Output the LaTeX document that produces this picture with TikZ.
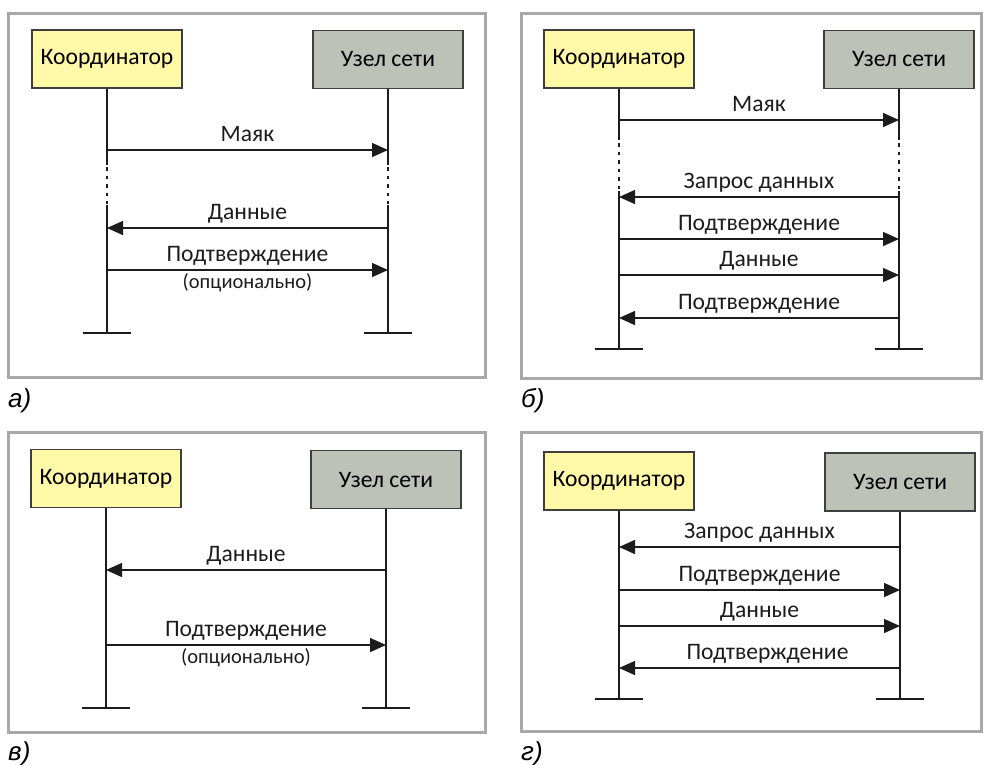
\documentclass[tikz,border=0pt]{standalone}
\usepackage{fontspec}
\setmainfont{Carlito}
\newfontfamily\tagfont{Liberation Sans}
\usepackage{tikz}
\usetikzlibrary{arrows.meta}
\definecolor{coordyellow}{RGB}{255,249,168}
\definecolor{nodegray}{RGB}{189,194,184}
\definecolor{framegray}{RGB}{168,168,168}
\definecolor{ink}{RGB}{28,28,28}
\tikzset{
  frame/.style={draw=framegray,line width=3pt},
  actor/.style={draw=ink!85,line width=1.6pt,minimum width=150pt,minimum height=58pt,inner sep=0pt,font=\fontsize{23.6}{27}\selectfont},
  life/.style={ink,line width=2.2pt},
  gap/.style={ink,line width=2.2pt,dash pattern=on 3.5pt off 5pt},
  msg/.style={ink,line width=1.5pt,-{Triangle[length=16pt,width=14pt]}},
  lab/.style={font=\fontsize{23.6}{27}\selectfont,anchor=base,yshift=9pt},
  note/.style={font=\fontsize{20.5}{24}\selectfont,anchor=base,yshift=-18pt},
  tag/.style={font=\tagfont\itshape\fontsize{26}{29}\selectfont,anchor=base west,inner sep=0pt}
}

\begin{document}
\begin{tikzpicture}[x=1pt,y=-1pt,line cap=butt]
  \useasboundingbox (0,0) rectangle (984,764);
  % а) beacon, then data with optional ack
  \draw[frame] (8,13) rectangle (485,377);
  \node[actor,fill=coordyellow] (ka) at (107,59) {Координатор};
  \node[actor,fill=nodegray] (ua) at (388,59.5) {Узел сети};
  \foreach \p in {ka,ua}{
    \draw[life] (\p.south) -- (\p.south |- 0,165);
    \draw[gap] (\p.south |- 0,167) -- (\p.south |- 0,204);
    \draw[life] (\p.south |- 0,205) -- (\p.south |- 0,333);
    \draw[life] (\p.south |- 0,333) ++(-24,0) -- ++(48,0);
  }
  \draw[msg] (ka |- 0,150) -- node[lab]{Маяк} (ua |- 0,150);
  \draw[msg] (ua |- 0,228) -- node[lab]{Данные} (ka |- 0,228);
  \draw[msg] (ka |- 0,270) -- node[lab]{Подтверждение} node[note]{(опционально)} (ua |- 0,270);
  \node[tag] (ta) at (8,407) {а)};
  % б) beacon, then data request
  \draw[frame] (521,13) rectangle (981,378);
  \node[actor,fill=coordyellow] (kb) at (619,59) {Координатор};
  \node[actor,fill=nodegray] (ub) at (899,59.5) {Узел сети};
  \foreach \p in {kb,ub}{
    \draw[life] (\p.south) -- (\p.south |- 0,140);
    \draw[gap] (\p.south |- 0,143) -- (\p.south |- 0,190);
    \draw[life] (\p.south |- 0,191) -- (\p.south |- 0,349);
    \draw[life] (\p.south |- 0,349) ++(-24,0) -- ++(48,0);
  }
  \draw[msg] (kb |- 0,120) -- node[lab]{Маяк} (ub |- 0,120);
  \draw[msg] (ub |- 0,197) -- node[lab]{Запрос данных} (kb |- 0,197);
  \draw[msg] (kb |- 0,239) -- node[lab]{Подтверждение} (ub |- 0,239);
  \draw[msg] (kb |- 0,275) -- node[lab]{Данные} (ub |- 0,275);
  \draw[msg] (ub |- 0,318) -- node[lab]{Подтверждение} (kb |- 0,318);
  \node[tag] (tb) at (521,407) {б)};
  % в) data without beacon
  \draw[frame] (8,432) rectangle (485,732);
  \node[actor,fill=coordyellow] (kc) at (106,478.5) {Координатор};
  \node[actor,fill=nodegray] (uc) at (386,479.5) {Узел сети};
  \foreach \p in {kc,uc}{
    \draw[life] (\p.south) -- (\p.south |- 0,708);
    \draw[life] (\p.south |- 0,708) ++(-24,0) -- ++(48,0);
  }
  \draw[msg] (uc |- 0,570) -- node[lab]{Данные} (kc |- 0,570);
  \draw[msg] (kc |- 0,645) -- node[lab]{Подтверждение} node[note]{(опционально)} (uc |- 0,645);
  \node[tag] (tc) at (8,760) {в)};
  % г) data request without beacon
  \draw[frame] (521,432) rectangle (981,731);
  \node[actor,fill=coordyellow] (kd) at (619,481) {Координатор};
  \node[actor,fill=nodegray] (ud) at (900,482) {Узел сети};
  \foreach \p in {kd,ud}{
    \draw[life] (\p.south) -- (\p.south |- 0,699);
    \draw[life] (\p.south |- 0,699) ++(-24,0) -- ++(48,0);
  }
  \draw[msg] (ud |- 0,547) -- node[lab]{Запрос данных} (kd |- 0,547);
  \draw[msg] (kd |- 0,590) -- node[lab]{Подтверждение} (ud |- 0,590);
  \draw[msg] (kd |- 0,626) -- node[lab]{Данные} (ud |- 0,626);
  \draw[msg] (ud |- 0,668) -- node[lab,xshift=8pt]{Подтверждение} (kd |- 0,668);
  \node[tag] (td) at (521,760) {г)};
\end{tikzpicture}
\end{document}
